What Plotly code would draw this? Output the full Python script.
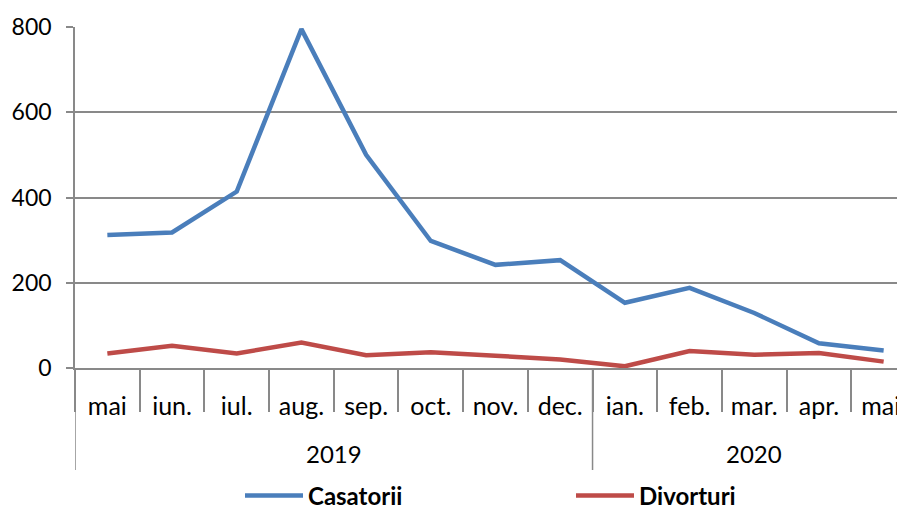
import plotly.graph_objects as go

months = ["mai", "iun.", "iul.", "aug.", "sep.", "oct.", "nov.", "dec.",
          "ian.", "feb.", "mar.", "apr.", "mai."]
year_labels = ["2019", "2020"]
year_centers = [3.5, 10]      # category index midpoints of each year group
year_bounds = [-0.5, 7.5]     # category boundaries where year groups start
casatorii = [312, 318, 414, 795, 500, 298, 242, 253, 153, 188, 129, 58, 41]
divorturi = [34, 52, 34, 60, 30, 37, 29, 20, 4, 40, 31, 35, 15]
y_ticks = [0, 200, 400, 600, 800]

font_family = "Lato, 'Open Sans', sans-serif"
axis_gray = "#898989"
# page body has an 8px margin, so the figure is sized to fit inside it
W, H = 897, 503
ML, MT, MB = 67, 19, 143
plot_h = H - MT - MB
plot_w = W - ML

fig = go.Figure()
fig.add_trace(go.Scatter(x=months, y=casatorii, mode="lines",
                         name="Casatorii", line=dict(color="#4A7EBB", width=4.5)))
fig.add_trace(go.Scatter(x=months, y=divorturi, mode="lines",
                         name="Divorturi", line=dict(color="#BE4B48", width=4.5)))

for lab, xc in zip(year_labels, year_centers):
    fig.add_annotation(x=xc, xref="x", y=-85 / plot_h, yref="paper",
                       text=lab, showarrow=False, yanchor="middle",
                       font=dict(size=24, family=font_family, color="black"))
for xb in year_bounds:
    fig.add_shape(type="line", xref="x", yref="paper", x0=xb, x1=xb,
                  y0=0, y1=-102 / plot_h,
                  line=dict(color=axis_gray, width=1.5))

fig.update_layout(
    width=W, height=H,
    margin=dict(l=ML, r=0, t=MT, b=MB, autoexpand=False),
    paper_bgcolor="white", plot_bgcolor="white",
    font=dict(family=font_family, size=24, color="black"),
    showlegend=True,
    legend=dict(orientation="h", x=(232 - ML) / plot_w, xanchor="left",
                y=-(488 - 360) / plot_h, yanchor="middle",
                font=dict(size=24, family=font_family, weight="bold"),
                entrywidth=258, entrywidthmode="pixels", itemwidth=58),
    xaxis=dict(type="category", range=[-0.5, 12.33], automargin=False,
               showline=True, linecolor=axis_gray, linewidth=1.5,
               ticks="outside", tickson="boundaries", ticklen=42,
               tickcolor=axis_gray, tickwidth=1.5,
               ticklabelstandoff=15,
               showgrid=False, tickfont=dict(size=25)),
    yaxis=dict(range=[0, 800], tickvals=y_ticks, automargin=False,
               showgrid=True, gridcolor=axis_gray, gridwidth=1.5,
               showline=True, linecolor=axis_gray, linewidth=1.5,
               ticks="outside", ticklen=7, tickcolor=axis_gray, tickwidth=1.5,
               zeroline=False, tickfont=dict(size=23), ticklabelstandoff=10),
)

fig.write_html("out.html")
